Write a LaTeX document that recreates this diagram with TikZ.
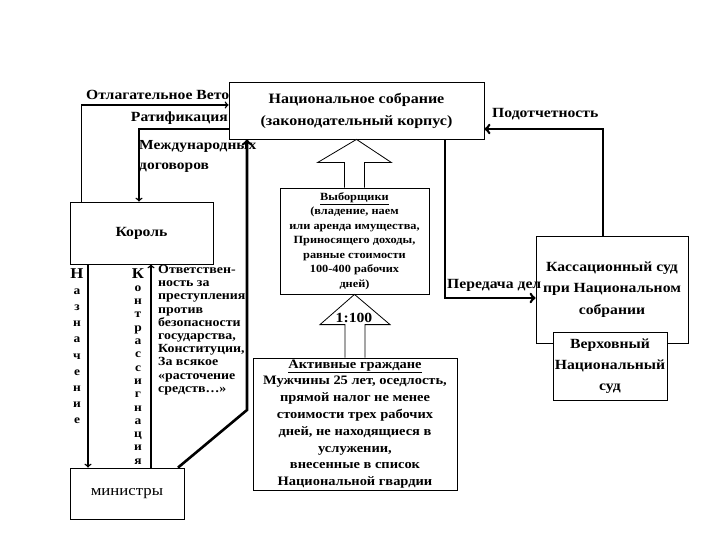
\documentclass[tikz,border=0pt]{standalone}
\usepackage{fontspec}
\setmainfont{Liberation Serif}[FakeStretch=1.12]
\usetikzlibrary{calc}

\tikzset{
  box/.style={draw, fill=white, line width=0.8pt, inner sep=0pt, align=center},
  link/.style={line width=1.5pt, ->},
  heavy/.style={line width=2.6pt, ->},
  block/.style={draw, fill=white, line width=0.8pt},
  lbl/.style={inner sep=0pt, font=\bfseries\fontsize{14}{16}\selectfont}
}

\begin{document}
\begin{tikzpicture}[x=1pt, y=-1pt]
    \useasboundingbox (0,0) rectangle (720,540);

    % boxes
    \node[box, minimum width=255, minimum height=57, font=\bfseries\fontsize{14.3}{22}\selectfont] (assembly) at (356.5,110.5) {Национальное собрание\\(законодательный корпус)};
    \node[box, minimum width=143, minimum height=62, font=\bfseries\fontsize{14}{15}\selectfont] (king) at (141.5,233) {Король};
    \node[box, minimum width=114, minimum height=51, font=\fontsize{15}{15}\selectfont] (ministers) at (127,493.5) {министры};
    \node[box, minimum width=149, minimum height=106, font=\bfseries\fontsize{11}{14.5}\selectfont] (electors) at (354.5,241)
        {\underline{Выборщики}\\(владение, наем\\или аренда имущества,\\Приносящего доходы,\\равные стоимости\\100-400 рабочих\\дней)};
    \node[box, minimum width=204, minimum height=132, font=\bfseries\fontsize{12.9}{16.8}\selectfont] (citizens) at (355,424)
        {\underline{Активные граждане}\\Мужчины 25 лет, оседлость,\\прямой налог не менее\\стоимости трех рабочих\\дней, не находящиеся в\\услужении,\\внесенные в список\\Национальной гвардии};
    \node[box, minimum width=152, minimum height=107, font=\bfseries\fontsize{14}{21.5}\selectfont] (cassation) at (612,289.5) {Кассационный суд\\при Национальном\\собрании};
    \node[box, minimum width=114, minimum height=68, font=\bfseries\fontsize{14}{21}\selectfont] (supreme) at (610,366) {Верховный\\Национальный\\суд};

    % king and assembly
    \draw[link] ([xshift=12pt]king.north west) |- ([yshift=5.5pt]assembly.west);
    \draw[link] ([yshift=-18.5pt]assembly.west) -| ([xshift=-2.5pt]king.north);
    \node[lbl, anchor=base west] (veto) at (86,100) {Отлагательное Вето};
    \node[lbl, anchor=base east] (ratif) at (228,122) {Ратификация};
    \node[lbl, anchor=north west, align=left, font=\bfseries\fontsize{13.8}{20}\selectfont] (treaty) at (139,140) {Международных\\договоров};

    % king and ministers
    \draw[link] ([xshift=-53.5pt]king.south) -- ([xshift=-39pt]ministers.north);
    \draw[link] ([xshift=24pt]ministers.north) -- ([xshift=9.5pt]king.south);
    \node[anchor=north, inner sep=0pt, align=center, font=\bfseries\fontsize{12}{16.2}\selectfont] (appoint) at (77,268)
        {{\fontsize{15}{16.2}\selectfont Н}\\а\\з\\н\\а\\ч\\е\\н\\и\\е};
    \node[anchor=north, inner sep=0pt, align=center, font=\bfseries\fontsize{12}{13.3}\selectfont] (counter) at (138,268)
        {{\fontsize{15}{13.3}\selectfont К}\\о\\н\\т\\р\\а\\с\\с\\и\\г\\н\\а\\ц\\и\\я};
    \node[anchor=north west, inner sep=0pt, align=left, font=\bfseries\fontsize{12.4}{13.2}\selectfont] (duty) at (158,265)
        {Ответствен-\\ность за\\преступления\\против\\безопасности\\государства,\\Конституции,\\За всякое\\«расточение\\средств…»};

    % ministers to assembly
    \coordinate (bend) at (247,410);
    \draw[heavy] ([xshift=51pt]ministers.north) -- (bend) -- (bend |- assembly.south);

    % electoral arrows
    \draw[block] ($(electors.north)+(-10,0)$) -- ++(0,-25) -- ++(-27,0) -- (assembly.south)
        -- ($(electors.north)+(37,-25)$) -- ++(-27,0) -- ++(0,25);
    \draw[block] ($(citizens.north)+(-10,0)$) -- ++(0,-33) -- ++(-25,0) -- (electors.south)
        -- ($(citizens.north)+(35,-33)$) -- ++(-25,0) -- ++(0,33);
    \node[inner sep=0pt, font=\bfseries\fontsize{14}{16}\selectfont] (ratio) at (354,318) {1:100};

    % courts
    \draw[heavy] ([xshift=-9pt]cassation.north) |- ([yshift=-18.5pt]assembly.east);
    \draw[heavy] ([xshift=88.5pt]assembly.south) |- ([yshift=-8.5pt]cassation.west);
    \node[lbl, anchor=base west] (report) at (492,118) {Подотчетность};
    \node[lbl, anchor=base west] (transfer) at (447,288) {Передача дел};

\end{tikzpicture}
\end{document}
